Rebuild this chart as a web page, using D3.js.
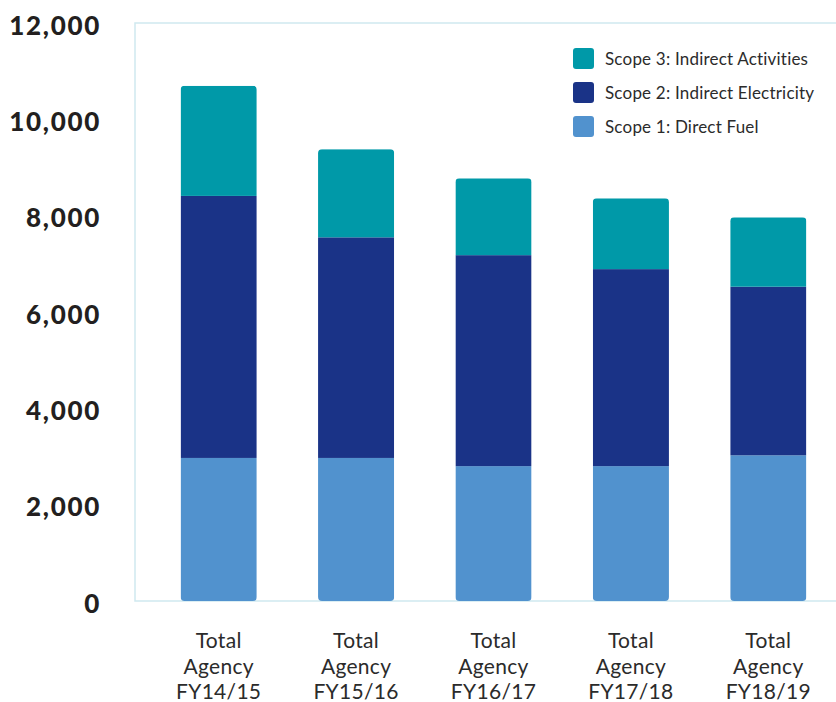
<!DOCTYPE html>
<html>
<head>
<meta charset="utf-8">
<script src="https://cdn.jsdelivr.net/npm/d3@7"></script>
<style>
  html, body { margin: 0; padding: 0; background: #fff; }
  svg { display: block; }
</style>
</head>
<body>
<svg id="chart" width="836" height="702"></svg>
<script>
// Greenhouse gas emissions by scope, per financial year
const categories = ["FY14/15", "FY15/16", "FY16/17", "FY17/18", "FY18/19"];
const scope1 = [2970, 2970, 2800, 2800, 3025];
const scope2 = [5440, 4580, 4380, 4090, 3500];
const scope3 = [2285, 1830, 1595, 1470, 1440];
const seriesNames = ["Scope 1: Direct Fuel", "Scope 2: Indirect Electricity", "Scope 3: Indirect Activities"];
const seriesColors = ["#5192ce", "#1a3387", "#0099a8"];
const yTicks = [0, 2000, 4000, 6000, 8000, 10000, 12000];

const svg = d3.select("#chart");
const plot = { left: 135, right: 860, top: 23, bottom: 601 };

const rows = categories.map((c, i) => ({ cat: c, s1: scope1[i], s2: scope2[i], s3: scope3[i] }));
const stack = d3.stack().keys(["s1", "s2", "s3"])(rows);

const x = d3.scaleBand()
  .domain(categories)
  .range([150, 837])
  .paddingInner(0.446)
  .paddingOuter(0.223);

const y = d3.scaleLinear().domain([0, 12000]).range([plot.bottom, plot.top]);

// plot frame
svg.append("rect")
  .attr("x", plot.left)
  .attr("y", plot.top)
  .attr("width", plot.right - plot.left)
  .attr("height", plot.bottom - plot.top)
  .attr("fill", "none")
  .attr("stroke", "#cfe9ef")
  .attr("stroke-width", 1.5);

// y axis labels
const yAxis = d3.axisLeft(y)
  .tickValues(yTicks)
  .tickFormat(d3.format(","))
  .tickSize(0)
  .tickPadding(0);

const yg = svg.append("g")
  .attr("transform", "translate(101,3)")
  .call(yAxis);
yg.select(".domain").remove();
yg.selectAll("text")
  .attr("fill", "#231f20")
  .style("font-family", "Lato, 'Open Sans', sans-serif")
  .style("font-weight", "900")
  .style("font-size", "26px")
  .style("letter-spacing", "1.7px");

// stacked bars, each clipped to a rounded outline of the whole stack
const defs = svg.append("defs");
rows.forEach((r, i) => {
  const total = r.s1 + r.s2 + r.s3;
  defs.append("clipPath").attr("id", "clip" + i)
    .append("rect")
    .attr("x", x(r.cat))
    .attr("y", y(total))
    .attr("width", x.bandwidth())
    .attr("height", y(0) - y(total))
    .attr("rx", 4).attr("ry", 4);
});

const layers = svg.append("g").selectAll("g")
  .data(stack)
  .join("g")
  .attr("fill", (d, i) => seriesColors[i]);

layers.selectAll("rect")
  .data(d => d)
  .join("rect")
  .attr("clip-path", (d, i) => `url(#clip${i})`)
  .attr("x", d => x(d.data.cat))
  .attr("y", d => y(d[1]))
  .attr("width", x.bandwidth())
  .attr("height", d => y(d[0]) - y(d[1]));

// category labels
const xg = svg.append("g");
categories.forEach(c => {
  const t = xg.append("text")
    .attr("x", x(c) + x.bandwidth() / 2)
    .attr("y", 648)
    .attr("text-anchor", "middle")
    .attr("fill", "#2b2b2b")
    .style("font-family", "Lato, 'Open Sans', sans-serif")
    .style("font-weight", "400")
    .style("font-size", "21px")
    .style("letter-spacing", "0.3px");
  ["Total", "Agency", c].forEach((line, k) => {
    t.append("tspan").attr("x", x(c) + x.bandwidth() / 2).attr("dy", k === 0 ? 0 : 25.5).text(line);
  });
});

// legend (top to bottom: scope 3, scope 2, scope 1)
const legendOrder = [2, 1, 0];
const lg = svg.append("g");
legendOrder.forEach((si, k) => {
  const cy = 58.5 + k * 34;
  lg.append("rect")
    .attr("x", 573).attr("y", cy - 10.5)
    .attr("width", 21).attr("height", 21)
    .attr("rx", 3)
    .attr("fill", seriesColors[si]);
  lg.append("text")
    .attr("x", 605).attr("y", cy + 6)
    .attr("fill", "#2b2b2b")
    .style("font-family", "Lato, 'Open Sans', sans-serif")
    .style("font-size", "17px")
    .style("letter-spacing", "0.2px")
    .text(seriesNames[si]);
});
</script>
</body>
</html>
